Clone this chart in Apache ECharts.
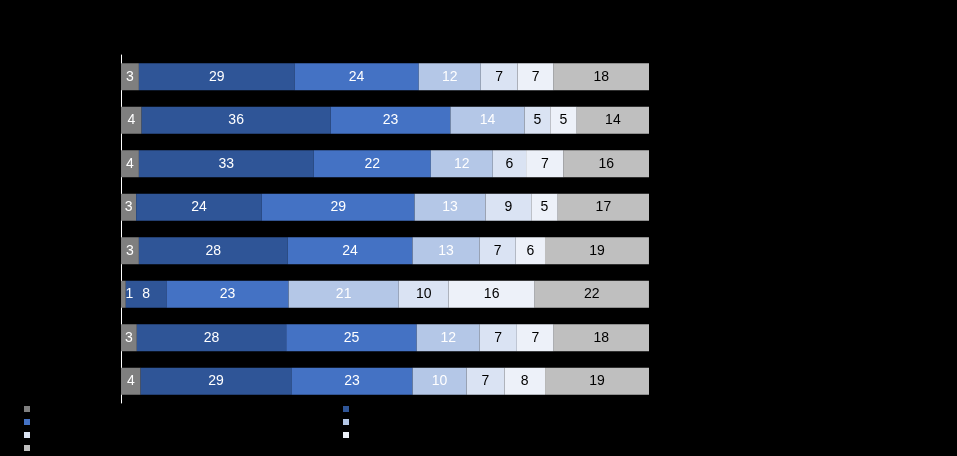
<!DOCTYPE html>
<html>
<head>
<meta charset="utf-8">
<style>html,body{margin:0;padding:0;background:#000;}#c{width:957px;height:456px;}</style>
<script src="https://cdn.jsdelivr.net/npm/echarts@6/dist/echarts.min.js"></script>
</head>
<body>
<div id="c"></div>
<script>
const categories = ['Row 1','Row 2','Row 3','Row 4','Row 5','Row 6','Row 7','Row 8'];
const seriesNames = ['Category A','Category B','Category C','Category D','Category E','Category F','Category G'];
// shares (percent of bar)
const s1 = [3.39, 3.91, 3.39, 2.87, 3.39, 0.91, 3.00, 3.72];
const s2 = [29.47, 35.79, 33.12, 23.79, 28.16, 7.69, 28.29, 28.55];
const s3 = [23.53, 22.69, 22.16, 28.94, 23.66, 23.14, 24.71, 22.95];
const s4 = [11.73, 14.02, 11.73, 13.43, 12.71, 20.86, 11.93, 10.23];
const s5 = [6.98, 4.89, 6.32, 8.67, 6.84, 9.45, 7.04, 7.17];
const s6 = [6.84, 5.02, 7.11, 5.02, 5.54, 16.30, 6.98, 7.69];
const s7 = [18.06, 13.69, 16.17, 17.28, 19.69, 21.64, 18.06, 19.69];
// printed labels
const l1 = [3, 4, 4, 3, 3, 1, 3, 4];
const l2 = [29, 36, 33, 24, 28, 8, 28, 29];
const l3 = [24, 23, 22, 29, 24, 23, 25, 23];
const l4 = [12, 14, 12, 13, 13, 21, 12, 10];
const l5 = [7, 5, 6, 9, 7, 10, 7, 7];
const l6 = [7, 5, 7, 5, 6, 16, 7, 8];
const l7 = [18, 14, 16, 17, 19, 22, 18, 19];
const allSeries = [s1, s2, s3, s4, s5, s6, s7];
const allLabels = [l1, l2, l3, l4, l5, l6, l7];
const colors = ['#7f7f7f','#2f5597','#4472c4','#b4c7e7','#dae3f3','#edf1f9','#bfbfbf'];
const labelColors = ['#fff','#fff','#fff','#fff','#000','#000','#000'];

const series = allSeries.map((arr, k) => ({
  name: seriesNames[k],
  type: 'bar',
  stack: 'total',
  barWidth: 27,
  itemStyle: { color: colors[k] },
  label: {
    show: true,
    position: 'inside',
    color: labelColors[k],
    fontFamily: 'Liberation Sans, Arial, sans-serif',
    fontSize: 14,
    formatter: p => String(allLabels[k][p.dataIndex])
  },
  data: arr.map(v => v < 2 ? { value: v, label: { offset: [6, 0] } } : v)
}));

const chart = echarts.init(document.getElementById('c'));
chart.setOption({
  backgroundColor: '#000',
  animation: false,
  grid: { left: 121, right: 308, top: 55, bottom: 53 },
  xAxis: { type: 'value', min: 0, max: 100, show: false },
  yAxis: {
    type: 'category',
    data: categories,
    inverse: true,
    axisLine: { show: true, lineStyle: { color: '#ffffff', width: 1 } },
    axisTick: { show: false },
    axisLabel: { color: '#000', fontSize: 12 }
  },
  legend: [
    {
      orient: 'vertical', left: 24, top: 404, padding: 0,
      itemWidth: 6, itemHeight: 6, itemGap: 3,
      icon: 'rect',
      textStyle: { color: '#000', fontSize: 10, lineHeight: 10 },
      data: [seriesNames[0], seriesNames[2], seriesNames[4], seriesNames[6]]
    },
    {
      orient: 'vertical', left: 343, top: 404, padding: 0,
      itemWidth: 6, itemHeight: 6, itemGap: 3,
      icon: 'rect',
      textStyle: { color: '#000', fontSize: 10, lineHeight: 10 },
      data: [seriesNames[1], seriesNames[3], seriesNames[5]]
    }
  ],
  series: series
});
</script>
</body>
</html>
